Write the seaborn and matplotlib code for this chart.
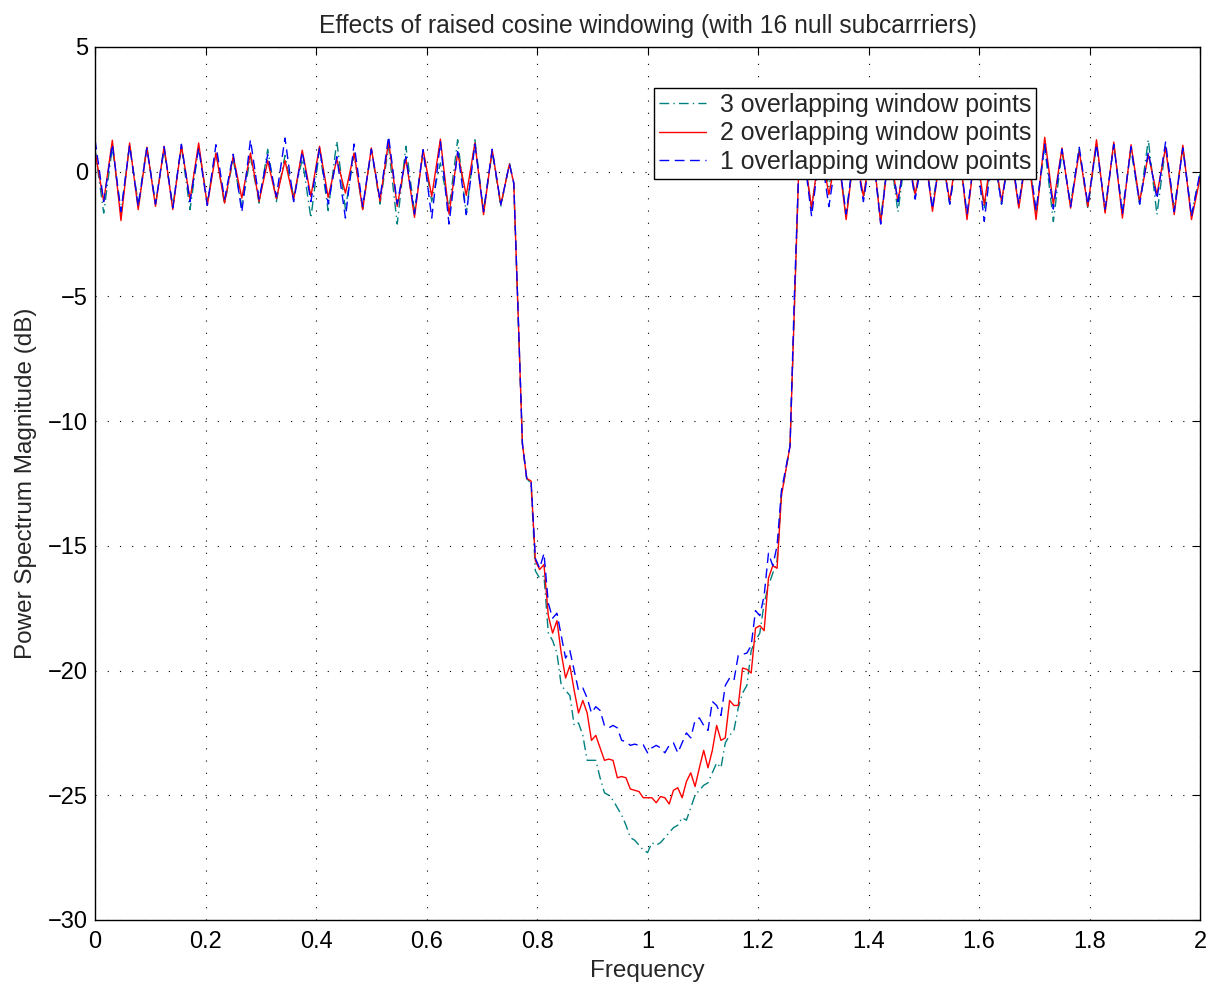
import numpy as np
import pandas as pd
import seaborn as sns
import matplotlib.pyplot as plt

## Frequency grid: passband read every 1/64, the transition band every 1/128
freq_left = np.arange(0, 97, 2) / 128
freq_mid = np.arange(97, 164) / 128
freq_right = np.arange(164, 257, 2) / 128
freq = np.concatenate([freq_left, freq_mid, freq_right])

## 3 overlapping window points (teal, dash-dot)
teal_left = [0.9, -1.66, 1.0, -1.7, 1.1, -1.3, 1.0, -1.3, 0.9, -1.4, 1.0, -1.52, 1.0, -1.2,
             0.8, -1.3, 0.5, -1.4, 0.6, -1.26, 0.9, -1.2, 0.65, -1.0, 0.5, -1.86, 0.9, -1.56,
             1.22, -1.5, 0.7, -1.5, 0.9, -1.3, 1.0, -2.1, 1.02, -1.6, 0.8, -1.2, 0.35, -1.5,
             1.28, -1.7, 1.28, -1.6, 0.8, -1.4, 0.35]
teal_mid = [-0.5, -5.7, -10.9, -12.3, -12.5, -16.0, -16.3, -16.2, -18.5, -18.8, -19.3, -20.6,
            -20.8, -21.0, -22.2, -22.1, -22.6, -23.6, -23.6, -23.6, -24.3, -24.9, -25.0, -25.2,
            -25.5, -25.8, -26.2, -26.7, -26.8, -27.0, -27.2, -27.3, -26.9, -27.0, -26.9, -26.7,
            -26.5, -26.3, -26.2, -25.9, -26.0, -25.5, -25.0, -24.8, -24.6, -24.5, -24.1, -23.7,
            -23.9, -22.9, -22.6, -22.4, -21.5, -20.9, -20.6, -19.2, -18.8, -18.5, -17.3, -16.6,
            -16.1, -15.6, -13.0, -12.0, -11.0, -5.5, 0.0]
teal_right = [0.9, -1.5, 1.0, -0.6, 1.0, -1.8, 1.0, -1.1, 1.1, -1.9, 1.0, -1.62, 1.0, -1.0,
              1.0, -1.4, 1.0, -1.3, 1.0, -1.8, 1.0, -1.5, 1.0, -1.3, 1.0, -1.4, 1.0, -1.7,
              1.0, -2.0, 0.8, -1.3, 0.9, -1.5, 1.1, -1.6, 1.1, -1.6, 0.9, -1.3, 1.28, -1.72,
              1.0, -1.5, 1.0, -1.7, -0.1]

## 2 overlapping window points (red, solid)
red_left = [0.8, -1.19, 1.26, -1.96, 1.15, -1.52, 0.98, -1.39, 1.02, -1.52, 1.06, -1.12, 1.15,
            -1.35, 0.75, -1.26, 0.62, -1.06, 0.75, -1.19, 0.44, -1.08, 0.45, -1.12, 0.86, -0.99,
            1.02, -1.03, 0.5, -0.86, 0.75, -1.52, 0.95, -1.19, 1.22, -1.39, 0.55, -1.83, 0.88,
            -0.99, 1.31, -1.70, 0.75, -0.95, 1.15, -1.72, 0.88, -1.32, 0.3]
red_mid = [-0.45, -5.7, -10.9, -12.3, -12.4, -15.6, -15.95, -15.75, -17.8, -18.5, -18.0, -19.3,
           -20.3, -19.8, -20.8, -21.7, -21.2, -21.7, -22.8, -22.6, -23.1, -23.6, -23.55, -23.6,
           -24.3, -24.25, -24.3, -24.75, -24.8, -24.85, -25.1, -25.1, -25.1, -25.3, -25.05, -25.1,
           -25.35, -24.8, -24.7, -25.1, -24.45, -24.1, -24.65, -23.9, -23.2, -23.9, -23.2, -22.2,
           -22.8, -22.7, -21.2, -21.4, -21.4, -19.9, -19.95, -20.1, -18.3, -18.2, -18.4, -16.3,
           -15.8, -15.9, -13.0, -12.0, -11.0, -5.5, 0.0]
red_right = [1.0, -1.46, 1.1, -0.92, 0.9, -1.92, 1.0, -0.99, 1.2, -2.06, 0.9, -1.19, 1.0, -0.92,
             1.1, -1.59, 0.9, -1.19, 1.2, -1.92, 1.0, -1.32, 1.1, -1.19, 1.0, -1.46, 0.9, -1.92,
             1.38, -1.32, 0.95, -1.46, 0.82, -1.4, 1.28, -1.66, 1.19, -1.86, 1.08, -1.19, 0.68,
             -0.92, 0.97, -1.72, 1.06, -1.92, -0.25]

## 1 overlapping window points (blue, dashed)
blue_left = [1.28, -1.2, 1.1, -1.59, 1.05, -1.4, 0.95, -1.3, 1.0, -1.45, 1.1, -1.2, 0.95, -1.35,
             1.08, -1.1, 0.7, -1.62, 1.28, -1.1, 0.68, -1.0, 1.35, -1.2, 0.8, -1.2, 0.95, -1.3,
             0.6, -1.86, 1.11, -1.4, 0.9, -1.1, 1.42, -1.3, 0.6, -1.7, 0.88, -1.86, 1.2, -2.1,
             0.8, -1.72, 1.1, -1.6, 0.9, -1.32, 0.3]
blue_mid = [-0.45, -5.6, -10.9, -12.3, -12.4, -15.5, -15.9, -15.3, -17.3, -17.9, -17.7, -18.6,
            -19.5, -19.2, -20.0, -20.8, -20.7, -21.1, -21.7, -21.45, -21.6, -22.2, -22.3, -22.2,
            -22.3, -22.8, -22.85, -23.0, -22.95, -23.0, -22.98, -23.3, -23.1, -23.0, -23.1, -23.3,
            -23.0, -22.9, -23.3, -22.9, -22.5, -22.7, -22.0, -21.9, -22.2, -22.4, -21.24, -21.4,
            -21.8, -20.6, -20.3, -20.4, -19.4, -19.35, -19.3, -19.0, -17.6, -17.8, -17.0, -15.3,
            -15.8, -15.0, -12.8, -11.9, -11.0, -5.0, 0.0]
blue_right = [1.0, -1.79, 1.0, -1.4, 0.9, -1.7, 1.0, -1.2, 1.1, -2.1, 1.0, -1.2, 1.0, -1.1,
              1.0, -1.5, 0.9, -1.3, 1.1, -1.7, 1.0, -1.99, 1.0, -1.3, 1.0, -1.3, 1.0, -1.56,
              1.1, -1.5, 0.9, -1.4, 0.98, -1.32, 1.1, -1.5, 1.1, -1.7, 1.0, -1.3, 0.8, -1.1,
              1.19, -1.6, 0.95, -1.8, 0.0]

teal = teal_left + teal_mid + teal_right
red = red_left + red_mid + red_right
blue = blue_left + blue_mid + blue_right

sns.set_style("white")
plt.rcParams['font.family'] = ['Liberation Sans', 'DejaVu Sans']

fig = plt.figure(figsize=(12.11, 9.89), dpi=100)
ax = fig.add_axes([0.0785, 0.0698, 0.9125, 0.8827])

sns.lineplot(x=freq, y=teal, color=(0, 0.5, 0.5), linewidth=1.0,
             label='3 overlapping window points', ax=ax)
sns.lineplot(x=freq, y=red, color='red', linestyle='-', linewidth=1.0,
             label='2 overlapping window points', ax=ax)
sns.lineplot(x=freq, y=blue, color='blue', linewidth=1.0,
             label='1 overlapping window points', ax=ax)
# MATLAB-like dash patterns
ax.lines[0].set_dashes([7, 3, 1, 3])
ax.lines[2].set_dashes([7, 4])

ax.set_xlim(0, 2)
ax.set_ylim(-30, 5)
ax.set_xticks(np.arange(0, 2.01, 0.2))
ax.set_xticklabels(['0', '0.2', '0.4', '0.6', '0.8', '1', '1.2', '1.4', '1.6', '1.8', '2'])
ax.set_yticks(np.arange(-30, 6, 5))

ax.grid(True, color='black', linestyle=(0, (1, 10)), linewidth=0.8)
for s in ax.spines.values():
    s.set_color('black')
    s.set_linewidth(1.0)
ax.tick_params(direction='in', top=True, right=True, length=6, width=0.8,
               labelsize=17, colors='black')
ax.tick_params(axis='x', pad=8)
ax.tick_params(axis='y', pad=5)

ax.set_title('Effects of raised cosine windowing (with 16 null subcarrriers)', fontsize=17.7, pad=10)
ax.set_xlabel('Frequency', fontsize=17.5, labelpad=5)
ax.set_ylabel('Power Spectrum Magnitude (dB)', fontsize=17.5, labelpad=8)

leg = ax.legend(loc='upper right', bbox_to_anchor=(0.8516, 0.953), fontsize=17.9,
                frameon=True, fancybox=False, framealpha=1, edgecolor='black',
                borderpad=0.2, labelspacing=0.18, handlelength=1.9, handletextpad=0.55,
                borderaxespad=0)
leg.get_frame().set_linewidth(1.0)
# legend handles keep the same dash patterns as the lines
leg.get_lines()[0].set_dashes([7, 3, 1, 3])
leg.get_lines()[2].set_dashes([7, 4])

fig.savefig('out.png', dpi=100)
